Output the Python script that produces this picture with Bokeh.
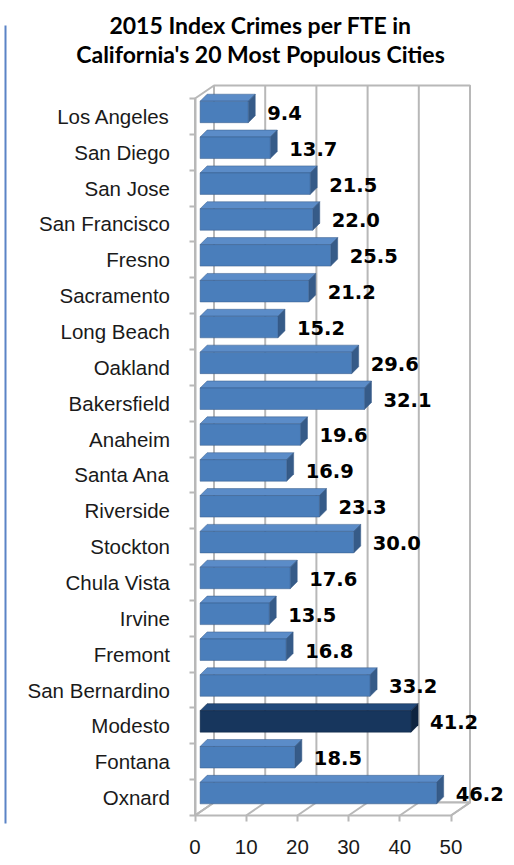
from bokeh.plotting import figure
from bokeh.models import FixedTicker, Range1d, ColumnDataSource
from bokeh.embed import file_html
from bokeh.resources import INLINE
from bokeh.core.properties import value

# ---------------- data ----------------
cities = ["Los Angeles", "San Diego", "San Jose", "San Francisco", "Fresno",
          "Sacramento", "Long Beach", "Oakland", "Bakersfield", "Anaheim",
          "Santa Ana", "Riverside", "Stockton", "Chula Vista", "Irvine",
          "Fremont", "San Bernardino", "Modesto", "Fontana", "Oxnard"]
crimes_per_fte = [9.4, 13.7, 21.5, 22.0, 25.5, 21.2, 15.2, 29.6, 32.1, 19.6,
                  16.9, 23.3, 30.0, 17.6, 13.5, 16.8, 33.2, 41.2, 18.5, 46.2]
highlight_city = "Modesto"
x_ticks = [0, 10, 20, 30, 40, 50]
title_lines = ["2015 Index Crimes per FTE in",
               "California's 20 Most Populous Cities"]

# ---------------- geometry (pixels -> data units) ----------------
W, H = 514, 865
SX = 5.12      # px per x unit
SY = 35.85     # px per category
X0 = 194.5     # canvas x of value 0 on the front plane
TOPC = 98      # canvas y of the top of the front plane
n = len(cities)
XMAX = x_ticks[-1]
DXW, DYW = 19 / SX, 13 / SY          # wall depth
BO = 1.0                              # bar start offset (mid depth)
BH, BSH = 0.6, 0.125                  # bar face height, upward shift
DXB, DYB = 7 / SX, 7 / SY             # bar depth


def cx(px):   # canvas x -> data x
    return (px - X0) / SX


def cy(py):   # canvas y -> data y
    return n + (TOPC - py) / SY


p = figure(width=W, height=H, output_backend="svg", toolbar_location=None,
           x_range=Range1d(cx(0), cx(W)), y_range=Range1d(cy(H), cy(0)),
           min_border=0, min_border_left=0, min_border_right=0,
           min_border_top=0, min_border_bottom=0)
p.grid.visible = False
p.outline_line_color = None
p.background_fill_color = "white"
p.border_fill_color = "white"

GRID = "#b8b8b8"

# walls
p.quad(left=[DXW], right=[XMAX + DXW], bottom=[DYW], top=[n + DYW],
       fill_color="white", line_color=GRID, line_width=2)
p.patch(x=[0, DXW, DXW, 0], y=[0, DYW, n + DYW, n],
        fill_color="white", line_color=GRID, line_width=2)
p.patch(x=[0, XMAX, XMAX + DXW, DXW], y=[0, 0, DYW, DYW],
        fill_color="white", line_color=GRID, line_width=2)
p.segment(x0=[t + DXW for t in x_ticks], y0=[DYW] * len(x_ticks),
          x1=[t + DXW for t in x_ticks], y1=[n + DYW] * len(x_ticks),
          line_color=GRID, line_width=2)
p.segment(x0=x_ticks, y0=[0] * len(x_ticks),
          x1=[t + DXW for t in x_ticks], y1=[DYW] * len(x_ticks),
          line_color=GRID, line_width=2)

# bars
yc = [n - 1 - i + 0.5 for i in range(n)]
bot = [y + BSH - BH / 2 for y in yc]
top = [y + BSH + BH / 2 for y in yc]
right = [v + BO for v in crimes_per_fte]
front_col = ["#17365d" if c == highlight_city else "#4a7ebb" for c in cities]
top_col = ["#22497a" if c == highlight_city else "#5b8cc8" for c in cities]
side_col = ["#0f2440" if c == highlight_city else "#365b88" for c in cities]

p.patches(xs=[[BO, r, r + DXB, BO + DXB] for r in right],
          ys=[[t, t, t + DYB, t + DYB] for t in top],
          fill_color=top_col, line_color=side_col, line_width=0.5)
p.patches(xs=[[r, r + DXB, r + DXB, r] for r in right],
          ys=[[b, b + DYB, t + DYB, t] for b, t in zip(bot, top)],
          fill_color=side_col, line_color=side_col, line_width=0.5)
p.quad(left=[BO] * n, right=right, bottom=bot, top=top,
       fill_color=front_col, line_color=side_col, line_width=0.5)

# value labels
src = ColumnDataSource(dict(x=right, y=[y + 0.1 for y in yc],
                            t=["%.1f" % v for v in crimes_per_fte]))
p.text(x="x", y="y", text="t", source=src, x_offset=19,
       text_baseline="middle", text_align="left",
       text_font=value("DejaVu Sans"), text_font_style="bold",
       text_font_size="19.5px", text_color="#000000")

# axes (fixed at the front edges of the 3D box)
xa = p.xaxis[0]
xa.fixed_location = 0
xa.ticker = FixedTicker(ticks=x_ticks)
xa.axis_line_color = None
xa.major_tick_out = 6
xa.major_tick_in = 0
xa.major_tick_line_color = GRID
xa.major_tick_line_width = 2
xa.minor_tick_line_color = None
xa.major_label_standoff = 18
xa.major_label_text_font = "Liberation Sans"
xa.major_label_text_font_size = "20.5px"
xa.major_label_text_color = "#1a1a1a"

ya = p.yaxis[0]
ya.fixed_location = 0
ya.ticker = FixedTicker(ticks=yc, minor_ticks=list(range(n + 1)))
ya.major_label_overrides = {y: c for y, c in zip(yc, cities)}
ya.bounds = (0, n)
ya.axis_line_color = GRID
ya.axis_line_width = 2
ya.major_tick_out = 0
ya.major_tick_in = 0
ya.minor_tick_out = 6
ya.minor_tick_in = 0
ya.minor_tick_line_color = GRID
ya.minor_tick_line_width = 2
ya.major_label_standoff = 19
ya.major_label_text_font = "Liberation Sans"
ya.major_label_text_font_size = "20.5px"
ya.major_label_text_color = "#1a1a1a"

# title
p.text(x=[cx(260)] * 2, y=[cy(24), cy(53)], text=title_lines,
       text_align="center", text_baseline="alphabetic",
       text_font=value("Lato"), text_font_style="bold",
       text_font_size="23px", text_color="#000000")

# left page rule
p.segment(x0=[cx(5)], y0=[cy(25)], x1=[cx(5)], y1=[cy(823)],
          line_color="#5b83c6", line_width=2)

open("out.html", "w").write(file_html(p, INLINE))
